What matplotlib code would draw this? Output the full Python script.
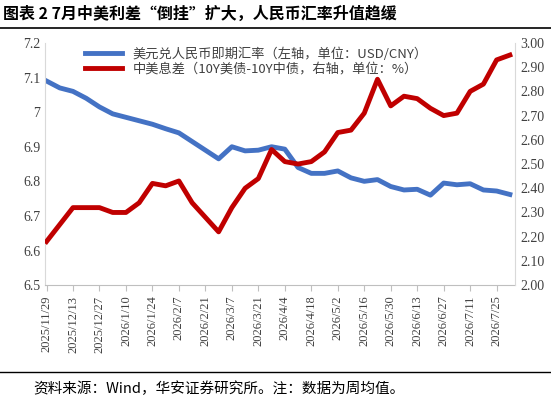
import matplotlib
matplotlib.use("Agg")
import matplotlib.pyplot as plt
import pandas as pd
import numpy as np

plt.rcParams['font.family'] = ['Noto Sans CJK SC', 'DejaVu Sans']

dates = pd.date_range("2025-11-29", periods=36, freq="7D")
usdcny = [7.09, 7.07, 7.06, 7.04, 7.015, 6.995, 6.985, 6.975, 6.965, 6.952, 6.94, 6.915,
          6.89, 6.865, 6.90, 6.888, 6.89, 6.90, 6.893, 6.84, 6.823, 6.823, 6.83, 6.81,
          6.80, 6.805, 6.785, 6.775, 6.777, 6.76, 6.795, 6.79, 6.793, 6.775, 6.772, 6.762]
spread = [2.18, 2.25, 2.32, 2.32, 2.32, 2.30, 2.30, 2.34, 2.42, 2.41, 2.43, 2.34,
          2.28, 2.22, 2.32, 2.40, 2.44, 2.56, 2.51, 2.50, 2.51, 2.55, 2.63, 2.64,
          2.71, 2.85, 2.74, 2.78, 2.77, 2.73, 2.70, 2.71, 2.80, 2.83, 2.93, 2.95]
labels = [f"{d.year}/{d.month}/{d.day}" for d in dates]

fig = plt.figure(figsize=(5.51, 4.05), dpi=100)
ax = fig.add_axes([0.082, 0.296, 0.853, 0.598])
x = np.arange(len(dates))
l1, = ax.plot(x, usdcny, color='#4472C4', lw=3.5, label='美元兑人民币即期汇率（左轴，单位：USD/CNY）')
ax.set_ylim(6.5, 7.2)
ax.set_yticks(np.arange(6.5, 7.21, 0.1))
ax.set_yticklabels(['6.5', '6.6', '6.7', '6.8', '6.9', '7', '7.1', '7.2'])
ax2 = ax.twinx()
l2, = ax2.plot(x, spread, color='#C00000', lw=3.5, label='中美息差（10Y美债-10Y中债，右轴，单位：%）')
ax2.set_ylim(2.0, 3.0)
ax2.set_yticks(np.arange(2.0, 3.01, 0.1))
ax2.set_yticklabels([f"{v:.2f}" for v in np.arange(2.0, 3.01, 0.1)])
ax.set_xlim(-0.1, len(x) - 0.6)
ax.set_xticks(x[::2])
ax.set_xticklabels(labels[::2], rotation=90, fontsize=9, color='#404040', family='Liberation Serif')
for a in (ax, ax2):
    for s in a.spines.values():
        s.set_visible(False)
    a.tick_params(axis='y', length=0, labelsize=10, labelcolor='#404040')
    for t in a.get_yticklabels():
        t.set_family('Liberation Serif')
ax.spines['bottom'].set_visible(True)
ax.spines['bottom'].set_color('#BFBFBF')
ax.spines['left'].set_visible(True)
ax.spines['left'].set_color('#D9D9D9')
ax2.spines['right'].set_visible(True)
ax2.spines['right'].set_color('#D9D9D9')
ax.tick_params(axis='x', color='#BFBFBF', length=4)
ax.legend(handles=[l1, l2], loc='upper left', bbox_to_anchor=(0.06, 1.03), frameon=False,
          fontsize=9.5, handlelength=2.8, labelspacing=0.1, labelcolor='#404040')

fig.text(0.005, 0.965, '图表 2 7月中美利差“倒挂”扩大，人民币汇率升值趋缓', fontsize=11.5,
         fontweight='bold', va='center')
fig.add_artist(plt.Line2D([0, 1], [0.93, 0.93], color='black', lw=1.2))
fig.add_artist(plt.Line2D([0, 1], [0.082, 0.082], color='black', lw=1.0))
fig.text(0.06, 0.04, '资料来源：Wind，华安证券研究所。注：数据为周均值。', fontsize=10.5, va='center')
fig.savefig('out.png', dpi=100)
